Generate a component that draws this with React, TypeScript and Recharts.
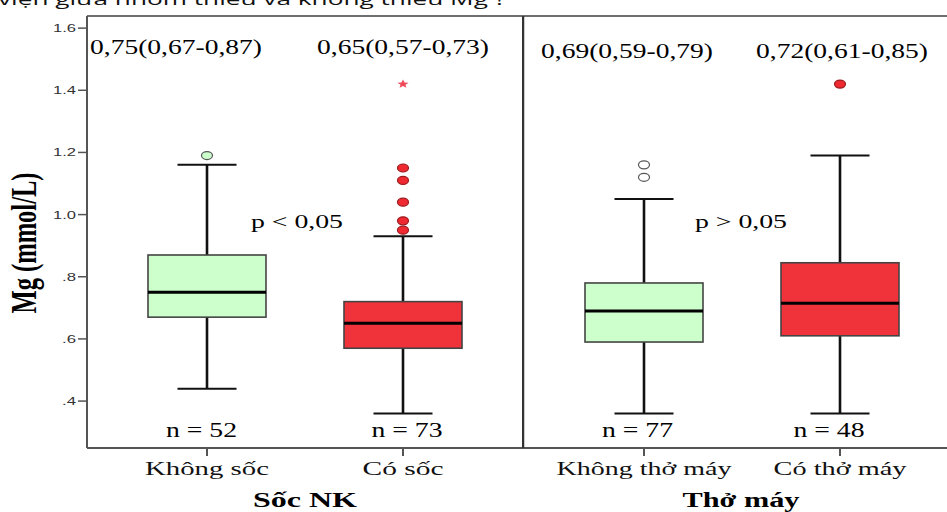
import React from 'react'
import { Bar, ComposedChart, LabelList, ReferenceLine, Scatter, XAxis, YAxis } from 'recharts'

// groups per panel
const shockGroups = ['Không sốc', 'Có sốc']
const ventGroups = ['Không thở máy', 'Có thở máy']

// box stats: [lower whisker, q1, median, q3, upper whisker]
const shockBoxes = [
  [0.44, 0.67, 0.75, 0.87, 1.16],
  [0.36, 0.57, 0.65, 0.72, 0.93],
]
const ventBoxes = [
  [0.36, 0.59, 0.69, 0.78, 1.05],
  [0.36, 0.61, 0.715, 0.845, 1.19],
]

const shockN = [52, 73]
const ventN = [77, 48]
const shockNotes = ['0,75(0,67-0,87)', '0,65(0,57-0,73)']
const ventNotes = ['0,69(0,59-0,79)', '0,72(0,61-0,85)']

// outliers (circles) and extremes (stars)
const khongSocOutliers = [1.19]
const coSocOutliers = [1.15, 1.11, 1.04, 0.98, 0.95]
const coSocExtremes = [1.42]
const khongThoOutliers = [1.16, 1.12]
const coThoOutliers = [1.42]

const yTicks = [0.4, 0.6, 0.8, 1.0, 1.2, 1.4, 1.6]
const yTickLabels = ['.4', '.6', '.8', '1.0', '1.2', '1.4', '1.6']
const yDomain = [0.249, 1.639]

const SERIF = '"Liberation Serif", "Times New Roman", serif'
const SANS = '"Liberation Sans", Arial, sans-serif'
const GREEN = '#ccffcc'
const RED = '#f0333a'
const AXIS = '#555'

const boxFill: Record<string, string> = {
  'Không sốc': GREEN,
  'Có sốc': RED,
  'Không thở máy': GREEN,
  'Có thở máy': RED,
}
const tickLen: Record<string, number> = {
  'Không sốc': 124,
  'Có sốc': 81,
  'Không thở máy': 175,
  'Có thở máy': 133,
}

const toRows = (groups: string[], boxes: number[][], ns: number[], notes: string[]) =>
  groups.map((g, i) => {
    const [lo, q1, med, q3, hi] = boxes[i]
    return { group: g, box: [q1, q3], lo, q1, med, q3, hi, n: `n = ${ns[i]}`, note: notes[i] }
  })

const toPoints = (group: string, values: number[]) => values.map((v) => ({ group, v }))

const shockRows = toRows(shockGroups, shockBoxes, shockN, shockNotes)
const ventRows = toRows(ventGroups, ventBoxes, ventN, ventNotes)

function BoxShape(props: any) {
  const { x, y, width, height, payload } = props
  const top = Math.min(y, y + height)
  const h = Math.abs(height)
  const ppu = h / (payload.q3 - payload.q1)
  const cx = x + width / 2
  const yHi = top - (payload.hi - payload.q3) * ppu
  const yLo = top + h + (payload.q1 - payload.lo) * ppu
  const yMed = top + (payload.q3 - payload.med) * ppu
  const cap = 29.5
  return (
    <g>
      <line x1={cx} x2={cx} y1={yHi} y2={yLo} stroke="#111" strokeWidth={2.6} />
      <line x1={cx - cap} x2={cx + cap} y1={yHi} y2={yHi} stroke="#111" strokeWidth={2} />
      <line x1={cx - cap} x2={cx + cap} y1={yLo} y2={yLo} stroke="#111" strokeWidth={2} />
      <rect x={x} y={top} width={width} height={h} fill={boxFill[payload.group]} stroke="#444" strokeWidth={1.6} />
      <line x1={x} x2={x + width} y1={yMed} y2={yMed} stroke="#000" strokeWidth={3} />
    </g>
  )
}

const ellipseDot = (fill: string, stroke: string) => (p: any) => (
  <ellipse cx={p.cx} cy={p.cy} rx={5.5} ry={4} fill={fill} stroke={stroke} strokeWidth={1.2} />
)

const starDot = (p: any) => {
  const pts: string[] = []
  for (let k = 0; k < 10; k++) {
    const r = k % 2 === 0 ? 4.5 : 2
    const a = -Math.PI / 2 + (k * Math.PI) / 5
    pts.push(`${p.cx + r * 1.3 * Math.cos(a)},${p.cy + r * Math.sin(a)}`)
  }
  return <polygon points={pts.join(' ')} fill="#f04a5a" />
}

const labelAt = (baseline: number, offsets: number[], len: number) => (p: any) => {
  const i = p.index ?? 0
  return (
    <text
      x={p.x + p.width / 2 + (offsets[i] || 0)}
      y={baseline}
      textAnchor="middle"
      fontFamily={SERIF}
      fontSize={20}
      fill="#000"
      textLength={len}
      lengthAdjust="spacingAndGlyphs"
    >
      {p.value}
    </text>
  )
}

const XTick = (p: any) => (
  <text
    x={p.x}
    y={475}
    textAnchor="middle"
    fontFamily={SERIF}
    fontSize={18}
    fill="#111"
    textLength={tickLen[p.payload.value]}
    lengthAdjust="spacingAndGlyphs"
  >
    {p.payload.value}
  </text>
)

const YTick = (p: any) => {
  const idx = yTicks.findIndex((t) => Math.abs(t - p.payload.value) < 1e-6)
  const label = yTickLabels[idx] ?? ''
  return (
    <text
      x={p.x}
      y={p.y}
      dy={4}
      textAnchor="end"
      fontFamily={SANS}
      fontSize={11}
      fill="#333"
      textLength={label.length === 3 ? 23 : 14}
      lengthAdjust="spacingAndGlyphs"
    >
      {label}
    </text>
  )
}

const panelLabel = (title: string, titleLen: number, pText: string, pDx: number, fallbackCx: number) => (p: any) => {
  const vb = p.viewBox
  const cx = vb && vb.width ? vb.x + vb.width / 2 : fallbackCx
  return (
    <g>
      <text x={cx} y={507} textAnchor="middle" fontFamily={SERIF} fontWeight="bold" fontSize={20} fill="#000"
        textLength={titleLen} lengthAdjust="spacingAndGlyphs">{title}</text>
      <text x={cx + pDx} y={228} textAnchor="middle" fontFamily={SERIF} fontSize={19} fill="#000"
        textLength={92} lengthAdjust="spacingAndGlyphs">{pText}</text>
    </g>
  )
}

const yLabel = () => (
  <text
    transform="translate(36,243) scale(1.45,1) rotate(-90)"
    textAnchor="middle"
    fontFamily={SERIF}
    fontWeight="bold"
    fontSize={24}
    fill="#000"
    textLength={141}
    lengthAdjust="spacingAndGlyphs"
  >
    Mg (mmol/L)
  </text>
)

export default function App() {
  return (
    <div style={{ position: 'absolute', left: 0, top: 0, width: 947, height: 512, overflow: 'hidden', background: '#fff' }}>
      {/* Sốc NK panel */}
      <div style={{ position: 'absolute', left: 0, top: 0 }}>
        <ComposedChart width={523} height={512} data={shockRows} margin={{ top: 15, right: 0, bottom: 0, left: 0 }}>
          <XAxis xAxisId="top" orientation="top" dataKey="group" height={1} tick={false} tickLine={false}
            allowDuplicatedCategory={false} axisLine={{ stroke: '#666', strokeWidth: 1.5 }} />
          <XAxis dataKey="group" height={64} allowDuplicatedCategory={false} padding={{ left: 22, right: 22 }}
            tickSize={8} tick={XTick} tickLine={{ stroke: AXIS, strokeWidth: 2 }} axisLine={{ stroke: AXIS, strokeWidth: 2 }}
            label={panelLabel('Sốc NK', 104, 'p < 0,05', -8, 305)} />
          <YAxis width={87} domain={yDomain} ticks={yTicks} allowDataOverflow tickSize={9} tick={YTick}
            tickLine={{ stroke: AXIS, strokeWidth: 1.5 }} axisLine={{ stroke: AXIS, strokeWidth: 2 }} label={yLabel} />
          <ReferenceLine y={yDomain[1]} stroke="#666" strokeWidth={1.5} ifOverflow="visible" />
          <ReferenceLine y={yDomain[0]} stroke={AXIS} strokeWidth={2} ifOverflow="visible" />
          <Bar dataKey="box" barSize={118} shape={BoxShape} isAnimationActive={false}>
            <LabelList dataKey="note" content={labelAt(54, [-31, 0], 172)} />
            <LabelList dataKey="n" content={labelAt(437, [-5.5, 4], 71)} />
          </Bar>
          <Scatter data={toPoints('Không sốc', khongSocOutliers)} dataKey="v" shape={ellipseDot(GREEN, '#555')} isAnimationActive={false} />
          <Scatter data={toPoints('Có sốc', coSocOutliers)} dataKey="v" shape={ellipseDot('#ee2a30', '#9a1a1e')} isAnimationActive={false} />
          <Scatter data={toPoints('Có sốc', coSocExtremes)} dataKey="v" shape={starDot} isAnimationActive={false} />
        </ComposedChart>
      </div>

      {/* Thở máy panel */}
      <div style={{ position: 'absolute', left: 522, top: 0 }}>
        <ComposedChart width={437} height={512} data={ventRows} margin={{ top: 15, right: 0, bottom: 0, left: 0 }}>
          <XAxis xAxisId="top" orientation="top" dataKey="group" height={1} tick={false} tickLine={false}
            allowDuplicatedCategory={false} axisLine={{ stroke: '#666', strokeWidth: 1.5 }} />
          <XAxis dataKey="group" height={64} allowDuplicatedCategory={false} padding={{ left: 23, right: 21 }}
            tickSize={8} tick={XTick} tickLine={{ stroke: AXIS, strokeWidth: 2 }} axisLine={{ stroke: AXIS, strokeWidth: 2 }}
            label={panelLabel('Thở máy', 117, 'p > 0,05', 0, 219)} />
          <YAxis width={1} domain={yDomain} ticks={yTicks} allowDataOverflow tick={false} tickLine={false}
            axisLine={{ stroke: '#333', strokeWidth: 2.5 }} />
          <ReferenceLine y={yDomain[1]} stroke="#666" strokeWidth={1.5} ifOverflow="visible" />
          <ReferenceLine y={yDomain[0]} stroke={AXIS} strokeWidth={2} ifOverflow="visible" />
          <Bar dataKey="box" barSize={118} shape={BoxShape} isAnimationActive={false}>
            <LabelList dataKey="note" content={labelAt(58, [-17, 2], 172)} />
            <LabelList dataKey="n" content={labelAt(437, [-6.5, -11], 71)} />
          </Bar>
          <Scatter data={toPoints('Không thở máy', khongThoOutliers)} dataKey="v" shape={ellipseDot('#fff', '#555')} isAnimationActive={false} />
          <Scatter data={toPoints('Có thở máy', coThoOutliers)} dataKey="v" shape={ellipseDot('#ee2a30', '#9a1a1e')} isAnimationActive={false} />
        </ComposedChart>
      </div>

      {/* cropped heading from the source page */}
      <svg width={947} height={20} style={{ position: 'absolute', left: 0, top: 0 }}>
        <text x={-2} y={5} fontFamily='"Open Sans", "Noto Sans", sans-serif' fontSize={17} fill="#111"
          textLength={508} lengthAdjust="spacingAndGlyphs">
          viện giữa nhóm thiếu và không thiếu Mg ?
        </text>
      </svg>
    </div>
  )
}
